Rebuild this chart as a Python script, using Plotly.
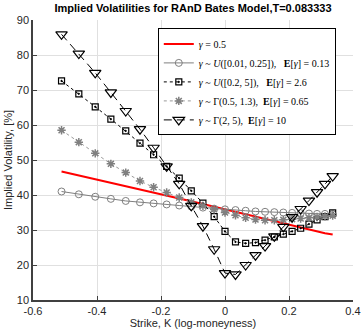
import plotly.graph_objects as go

# log-moneyness strikes
K = [-0.5108, -0.4568, -0.4055, -0.3567, -0.3102, -0.2657, -0.2231, -0.1823,
     -0.1431, -0.1054, -0.0690, -0.0339, 0.0, 0.0328, 0.0645, 0.0953,
     0.1252, 0.1542, 0.1823, 0.2097, 0.2364, 0.2624, 0.2877, 0.3124, 0.3365]

iv_fixed = [46.7, 45.6, 44.5, 43.5, 42.5, 41.6, 40.7, 39.8, 39.0, 38.2, 37.4, 36.6,
            35.9, 35.2, 34.4, 33.7, 33.1, 32.4, 31.8, 31.2, 30.6, 30.0, 29.5, 29.1, 28.7]
iv_unif_small = [41.0, 40.2, 39.5, 38.9, 38.3, 37.9, 37.6, 37.3, 37.0, 36.7, 36.4, 36.1,
                 35.9, 35.7, 35.5, 35.3, 35.2, 35.1, 35.0, 34.9, 34.8, 34.7, 34.6, 34.6, 34.5]
iv_unif_large = [72.6, 68.9, 65.2, 61.7, 58.3, 54.8, 51.5, 48.2, 44.8, 41.2, 37.7, 33.8,
                 29.6, 26.6, 26.2, 26.4, 27.1, 28.0, 28.8, 29.6, 30.5, 31.7, 32.9, 33.8, 34.9]
iv_gamma_small = [58.5, 55.1, 51.9, 48.9, 46.4, 44.0, 42.2, 40.7, 39.3, 37.9, 36.9, 35.9,
                  35.0, 34.2, 33.5, 33.0, 32.8, 32.8, 32.9, 33.1, 33.3, 33.5, 33.7, 33.9, 34.1]
iv_gamma_large = [85.9, 80.4, 74.9, 69.3, 64.0, 58.8, 53.5, 48.2, 43.2, 36.9, 31.1, 24.5,
                  17.7, 17.3, 20.0, 22.8, 25.4, 28.2, 30.9, 33.7, 36.0, 38.4, 40.8, 43.2, 45.4]

names = ["<i>γ</i> = 0.5",
         "<i>γ</i> ~ <i>U</i>([0.01, 0.25]),   <b>E</b>[<i>γ</i>] = 0.13",
         "<i>γ</i> ~ <i>U</i>([0.2, 5]),   <b>E</b>[<i>γ</i>] = 2.6",
         "<i>γ</i> ~ Γ(0.5, 1.3),  <b>E</b>[<i>γ</i>] = 0.65",
         "<i>γ</i> ~ Γ(2, 5),  <b>E</b>[<i>γ</i>] = 10"]

x_ticks = [-0.6, -0.4, -0.2, 0, 0.2, 0.4]
y_ticks = [10, 20, 30, 40, 50, 60, 70, 80, 90]

fig = go.Figure()
fig.add_trace(go.Scatter(x=K, y=iv_fixed, mode="lines", name=names[0],
                         line=dict(color="red", width=2)))
fig.add_trace(go.Scatter(x=K, y=iv_unif_small, mode="lines+markers", name=names[1],
                         line=dict(color="#7f7f7f", width=1),
                         marker=dict(symbol="circle-open", size=7, color="#7f7f7f",
                                     line=dict(width=1))))
fig.add_trace(go.Scatter(x=K, y=iv_unif_large, mode="lines+markers", name=names[2],
                         line=dict(color="black", width=1, dash="dot"),
                         marker=dict(symbol="square-open-dot", size=6, color="black",
                                     line=dict(width=1.2))))
fig.add_trace(go.Scatter(x=K, y=iv_gamma_small, mode="lines+markers", name=names[3],
                         line=dict(color="#9a9a9a", width=1, dash="dot"),
                         marker=dict(symbol="asterisk-open", size=7, color="#808080",
                                     line=dict(width=1.5, color="#808080"))))
fig.add_trace(go.Scatter(x=K, y=iv_gamma_large, mode="lines+markers", name=names[4],
                         line=dict(color="black", width=1, dash="8px,5px"),
                         marker=dict(symbol="triangle-down-open", size=10, color="black",
                                     line=dict(width=1.2))))

fig.update_layout(
    width=361, height=329,
    margin=dict(l=33, r=8, t=20, b=29, autoexpand=False),
    paper_bgcolor="white", plot_bgcolor="white",
    font=dict(family="Liberation Sans, Arial", size=11, color="#262626"),
    title=dict(text="<b>Implied Volatilities for RAnD Bates Model,T=0.083333</b>",
               x=0.5, xanchor="center", xref="paper", y=0.987, yanchor="top",
               font=dict(size=11, color="black")),
    showlegend=True,
    legend=dict(x=0.39, y=0.97, xanchor="left", yanchor="top",
                bgcolor="white", bordercolor="black", borderwidth=1,
                font=dict(family="Liberation Serif, DejaVu Serif", size=10, color="black"),
                tracegroupgap=0),
)
fig.update_xaxes(range=[-0.6, 0.4], tickvals=x_ticks, ticktext=[str(v) for v in x_ticks],
                 showgrid=True, gridcolor="#e0e0e0", gridwidth=1, automargin=False,
                 showline=True, linecolor="#404040", linewidth=1.5, mirror=False,
                 ticks="inside", ticklen=4, tickcolor="#404040", zeroline=False,
                 title=dict(text="Strike, K (log-moneyness)", standoff=4,
                            font=dict(size=11)))
fig.update_yaxes(range=[10, 90], tickvals=y_ticks,
                 showgrid=True, gridcolor="#e0e0e0", gridwidth=1, automargin=False,
                 showline=True, linecolor="#404040", linewidth=1.5, mirror=False,
                 ticks="inside", ticklen=4, tickcolor="#404040", zeroline=False,
                 title=dict(text="Implied Volatility, [%]", standoff=2,
                            font=dict(size=11)))

fig.write_html("out.html", config={"displayModeBar": False},
               post_script="document.body.style.margin='0';document.body.style.padding='0';")
